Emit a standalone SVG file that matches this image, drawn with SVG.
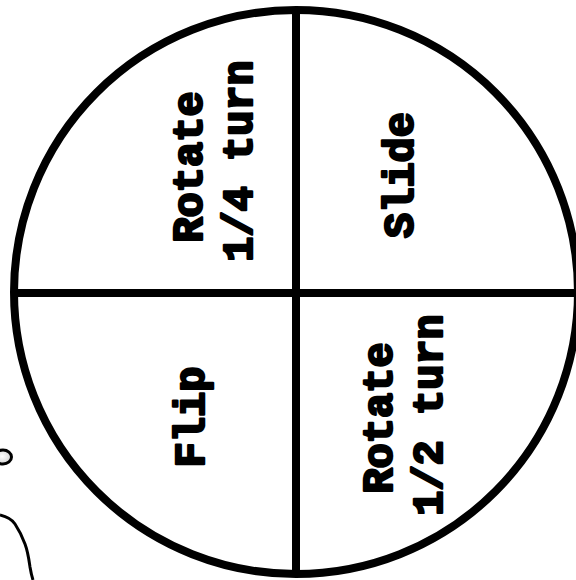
<svg xmlns="http://www.w3.org/2000/svg" width="576" height="580" viewBox="0 0 576 580">
<defs>
<radialGradient id="g" cx="0.45" cy="0.45" r="0.6"><stop offset="0" stop-color="#ffffff"/><stop offset="1" stop-color="#cfcfcf"/></radialGradient>
<style>
.lbl{font-family:"Liberation Mono","Courier New",monospace;font-weight:bold;font-size:42px;fill:#000;stroke:#000;stroke-width:2.4;stroke-linejoin:round;text-anchor:middle}
.ln{stroke:#000;stroke-width:8;fill:none}
</style>
</defs>
<rect width="576" height="580" fill="#fff"/>
<g id="decor">
<ellipse cx="3" cy="457" rx="8.5" ry="7" fill="url(#g)" stroke="#000" stroke-width="3"/>
<path d="M0,515 C8,517 13,521 15,524 C19,530 22,536 25,544 C28,552 29,560 30,567 C31,573 32,577 33,580" fill="none" stroke="#000" stroke-width="3"/>
</g>
<g id="wheel">
<circle cx="296" cy="292" r="282" fill="#fff" class="ln"/>
</g>
<g id="connectors">
<line x1="296" y1="10" x2="296" y2="574" class="ln"/>
<line x1="14" y1="293" x2="578" y2="293" class="ln"/>
</g>
<g id="n1"><text class="lbl" transform="translate(202,167) rotate(-90)">Rotate</text><text class="lbl" transform="translate(252,161) rotate(-90)">1/4 turn</text></g>
<g id="n2"><text class="lbl" transform="translate(413,175) rotate(-90)">Slide</text></g>
<g id="n3"><text class="lbl" transform="translate(204,417) rotate(-90)">Flip</text></g>
<g id="n4"><text class="lbl" transform="translate(392,418) rotate(-90)">Rotate</text><text class="lbl" transform="translate(442,415) rotate(-90)">1/2 turn</text></g>
</svg>
